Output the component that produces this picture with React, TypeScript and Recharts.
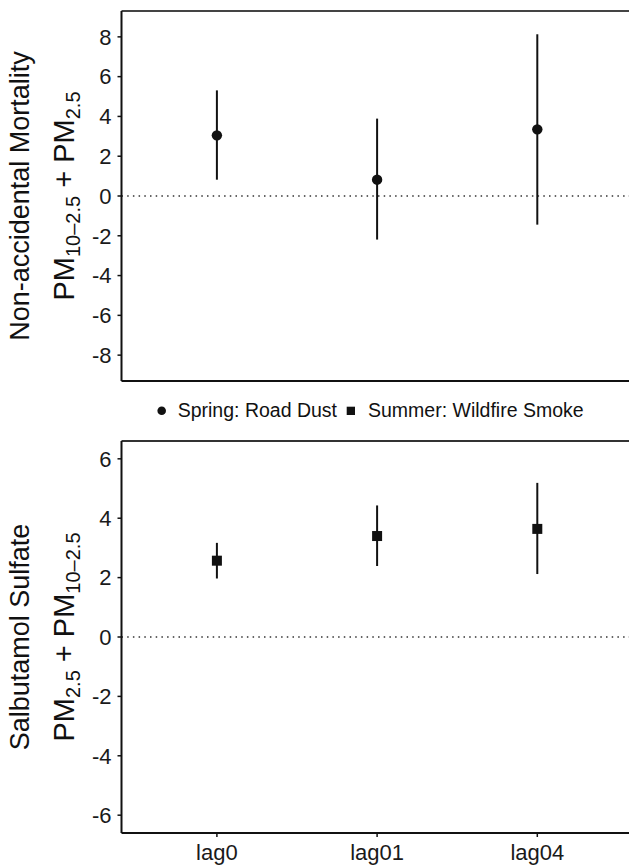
import React from 'react';
import { ComposedChart, Scatter, ErrorBar, XAxis, YAxis, ReferenceLine } from 'recharts';

const lags = ['lag0', 'lag01', 'lag04'];

// Spring: Road Dust -> non-accidental mortality (% change)
const springEst = [3.05, 0.82, 3.35];
const springLow = [0.82, -2.19, -1.44];
const springHigh = [5.31, 3.89, 8.13];

// Summer: Wildfire Smoke -> salbutamol sulfate dispensations
const summerEst = [2.57, 3.4, 3.64];
const summerLow = [1.97, 2.39, 2.12];
const summerHigh = [3.17, 4.43, 5.19];

const topTicks = [-8, -6, -4, -2, 0, 2, 4, 6, 8];
const bottomTicks = [-6, -4, -2, 0, 2, 4, 6];

const seriesNames = ['Spring: Road Dust', 'Summer: Wildfire Smoke'];

const FONT = '"Liberation Sans", Arial, Helvetica, sans-serif';
const INK = '#111';

type Part = { t: string; sub?: boolean };
const topTitle = 'Non-accidental Mortality';
const topTitle2: Part[] = [{ t: 'PM' }, { t: '10–2.5', sub: true }, { t: ' + PM' }, { t: '2.5', sub: true }];
const bottomTitle = 'Salbutamol Sulfate';
const bottomTitle2: Part[] = [{ t: 'PM' }, { t: '2.5', sub: true }, { t: ' + PM' }, { t: '10–2.5', sub: true }];

function toRows(est: number[], low: number[], high: number[]) {
  return lags.map((lag, i) => ({
    lag,
    est: est[i],
    err: [est[i] - low[i], high[i] - est[i]],
  }));
}

const springRows = toRows(springEst, springLow, springHigh);
const summerRows = toRows(summerEst, summerLow, summerHigh);

function AxisTitle(props: any) {
  const { viewBox, line1, parts } = props;
  const cy = viewBox ? viewBox.y + viewBox.height / 2 : 200;
  let shift = 0;
  return (
    <g fill={INK} fontFamily={FONT}>
      <text transform={`translate(28.5, ${cy}) rotate(-90)`} textAnchor="middle" fontSize={27}>
        {line1}
      </text>
      <text
        transform={`translate(74, ${cy}) rotate(-90)`}
        textAnchor="middle"
        fontSize={29}
        style={{ whiteSpace: 'pre' }}
      >
        {parts.map((p: Part, i: number) => {
          const target = p.sub ? 6 : 0;
          const dy = target - shift;
          shift = target;
          return (
            <tspan key={i} dy={dy} fontSize={p.sub ? 20 : 29}>
              {p.t}
            </tspan>
          );
        })}
      </text>
    </g>
  );
}

const Dot = (props: any) => <circle cx={props.cx} cy={props.cy} r={5.2} fill={INK} />;
const Square = (props: any) => (
  <rect x={props.cx - 5} y={props.cy - 5} width={10} height={10} fill={INK} />
);

const tickStyle = { fill: '#1a1a1a', fontSize: 22, fontFamily: FONT };
const pad = { left: 95.4, right: 95.4 };

function Legend() {
  return (
    <svg width={629} height={40} style={{ position: 'absolute', left: 0, top: 391 }}>
      <g fontFamily={FONT} fontSize={19.5} fill={INK}>
        <circle cx={161.7} cy={19.7} r={4.3} />
        <text x={177.7} y={26.3}>{seriesNames[0]}</text>
        <rect x={346.7} y={15.7} width={8.3} height={8.3} />
        <text x={368} y={26.3}>{seriesNames[1]}</text>
      </g>
    </svg>
  );
}

export default function App() {
  return (
    <div
      style={{
        position: 'absolute',
        left: 0,
        top: 0,
        width: 629,
        height: 867,
        overflow: 'hidden',
        background: '#fff',
      }}
    >
      <div style={{ position: 'absolute', left: 0, top: 0 }}>
        <ComposedChart width={640} height={383} data={springRows} margin={{ top: 10, right: 7.3, bottom: 1, left: 0 }}>
          <XAxis dataKey="lag" height={1} tick={false} tickLine={false} padding={pad} axisLine={{ stroke: INK, strokeWidth: 2 }} />
          <XAxis xAxisId="top" orientation="top" dataKey="lag" height={1} tick={false} tickLine={false} padding={pad} axisLine={{ stroke: '#444', strokeWidth: 2 }} />
          <YAxis
            type="number"
            domain={[-9.3, 9.3]}
            ticks={topTicks}
            width={121.5}
            tick={tickStyle}
            tickSize={4}
            tickMargin={6}
            axisLine={{ stroke: INK, strokeWidth: 2 }}
            tickLine={{ stroke: INK, strokeWidth: 1.5 }}
            label={{ content: (p: any) => <AxisTitle {...p} line1={topTitle} parts={topTitle2} /> }}
          />
          <ReferenceLine y={0} stroke="#333" strokeWidth={1.5} strokeDasharray="1.5 4.2" />
          <Scatter name={seriesNames[0]} dataKey="est" shape={Dot} isAnimationActive={false}>
            <ErrorBar dataKey="err" direction="y" width={0} stroke={INK} strokeWidth={2} isAnimationActive={false} />
          </Scatter>
        </ComposedChart>
      </div>
      <Legend />
      <div style={{ position: 'absolute', left: 0, top: 430 }}>
        <ComposedChart width={640} height={437} data={summerRows} margin={{ top: 10, right: 7.3, bottom: 0, left: 0 }}>
          <XAxis
            dataKey="lag"
            height={34}
            padding={pad}
            tick={tickStyle}
            tickSize={4}
            tickMargin={7}
            axisLine={{ stroke: INK, strokeWidth: 2 }}
            tickLine={{ stroke: INK, strokeWidth: 1.5 }}
          />
          <XAxis xAxisId="top" orientation="top" dataKey="lag" height={1} tick={false} tickLine={false} padding={pad} axisLine={{ stroke: '#333', strokeWidth: 2 }} />
          <YAxis
            type="number"
            domain={[-6.6, 6.6]}
            ticks={bottomTicks}
            width={121.5}
            tick={tickStyle}
            tickSize={4}
            tickMargin={6}
            axisLine={{ stroke: INK, strokeWidth: 2 }}
            tickLine={{ stroke: INK, strokeWidth: 1.5 }}
            label={{ content: (p: any) => <AxisTitle {...p} line1={bottomTitle} parts={bottomTitle2} /> }}
          />
          <ReferenceLine y={0} stroke="#333" strokeWidth={1.5} strokeDasharray="1.5 4.2" />
          <Scatter name={seriesNames[1]} dataKey="est" shape={Square} isAnimationActive={false}>
            <ErrorBar dataKey="err" direction="y" width={0} stroke={INK} strokeWidth={2} isAnimationActive={false} />
          </Scatter>
        </ComposedChart>
      </div>
    </div>
  );
}
